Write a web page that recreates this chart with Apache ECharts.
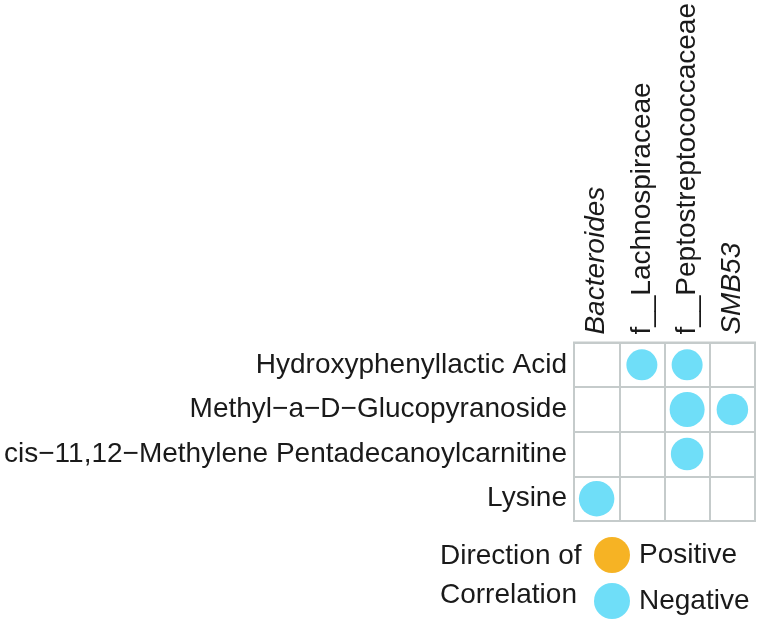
<!DOCTYPE html>
<html>
<head>
<meta charset="utf-8">
<script src="https://cdn.jsdelivr.net/npm/echarts@6/dist/echarts.min.js"></script>
<style>html,body{margin:0;padding:0;background:#fff}#c{width:759px;height:619px}</style>
</head>
<body>
<div id="c"></div>
<script>
// Data
const taxa = ['Bacteroides', 'f__Lachnospiraceae', 'f__Peptostreptococcaceae', 'SMB53'];
const italicTaxa = ['Bacteroides', 'SMB53'];
const metabolites = ['Hydroxyphenyllactic Acid', 'Methyl\u2212a\u2212D\u2212Glucopyranoside', 'cis\u221211,12\u2212Methylene Pentadecanoylcarnitine', 'Lysine'];
// [taxon, metabolite, correlation]
const negativeCorr = [
  ['f__Lachnospiraceae', 'Hydroxyphenyllactic Acid', -0.62],
  ['f__Peptostreptococcaceae', 'Hydroxyphenyllactic Acid', -0.62],
  ['f__Peptostreptococcaceae', 'Methyl\u2212a\u2212D\u2212Glucopyranoside', -0.70],
  ['SMB53', 'Methyl\u2212a\u2212D\u2212Glucopyranoside', -0.63],
  ['f__Peptostreptococcaceae', 'cis\u221211,12\u2212Methylene Pentadecanoylcarnitine', -0.65],
  ['Bacteroides', 'Lysine', -0.71]
];
const positiveCorr = [];
const legendTitle = ['Direction of', 'Correlation'];

const FONT = '"Liberation Sans", Arial, sans-serif';
const FS = 28;
const chart = echarts.init(document.getElementById('c'));
const sizeFn = v => Math.abs(v[2]) * 50;
chart.setOption({
  animation: false,
  backgroundColor: '#ffffff',
  textStyle: { fontFamily: FONT },
  grid: { left: 574, top: 341, width: 181, height: 180, show: true, borderColor: '#c5cbcb', borderWidth: 2, backgroundColor: 'transparent' },
  xAxis: {
    type: 'category', data: taxa, position: 'top',
    axisLine: { show: false }, axisTick: { show: false },
    splitLine: { show: true, lineStyle: { color: '#c5cbcb', width: 2 } },
    axisLabel: {
      rotate: -90, margin: 8, fontSize: FS, color: '#1a1a1a', fontFamily: FONT,
      overflow: 'none', interval: 0,
      formatter: v => italicTaxa.includes(v) ? '{i|' + v + '}' : v,
      rich: { i: { fontStyle: 'italic', fontSize: FS, color: '#1a1a1a', fontFamily: FONT } }
    }
  },
  yAxis: {
    type: 'category', data: metabolites, inverse: true,
    axisLine: { show: false }, axisTick: { show: false },
    splitLine: { show: true, lineStyle: { color: '#c5cbcb', width: 2 } },
    axisLabel: { margin: 7, fontSize: FS, color: '#1a1a1a', fontFamily: FONT, overflow: 'none', interval: 0 }
  },
  legend: {
    orient: 'vertical', left: 594, top: 537, padding: 0, itemWidth: 36, itemHeight: 36, itemGap: 10,
    icon: 'circle', textStyle: { fontSize: FS, color: '#1a1a1a', fontFamily: FONT, padding: [0, 0, 0, 4] },
    data: ['Positive', 'Negative']
  },
  graphic: [{
    type: 'text', left: 440, top: 537,
    style: { text: legendTitle.join('\n'), font: FS + 'px ' + FONT, fill: '#1a1a1a', lineHeight: 39 }
  }],
  series: [
    { name: 'Positive', type: 'scatter', data: positiveCorr, symbolSize: sizeFn, itemStyle: { color: '#F6B324', opacity: 1 } },
    { name: 'Negative', type: 'scatter', data: negativeCorr, symbolSize: sizeFn, itemStyle: { color: '#6FDEF8', opacity: 1 } }
  ]
});
</script>
</body>
</html>
